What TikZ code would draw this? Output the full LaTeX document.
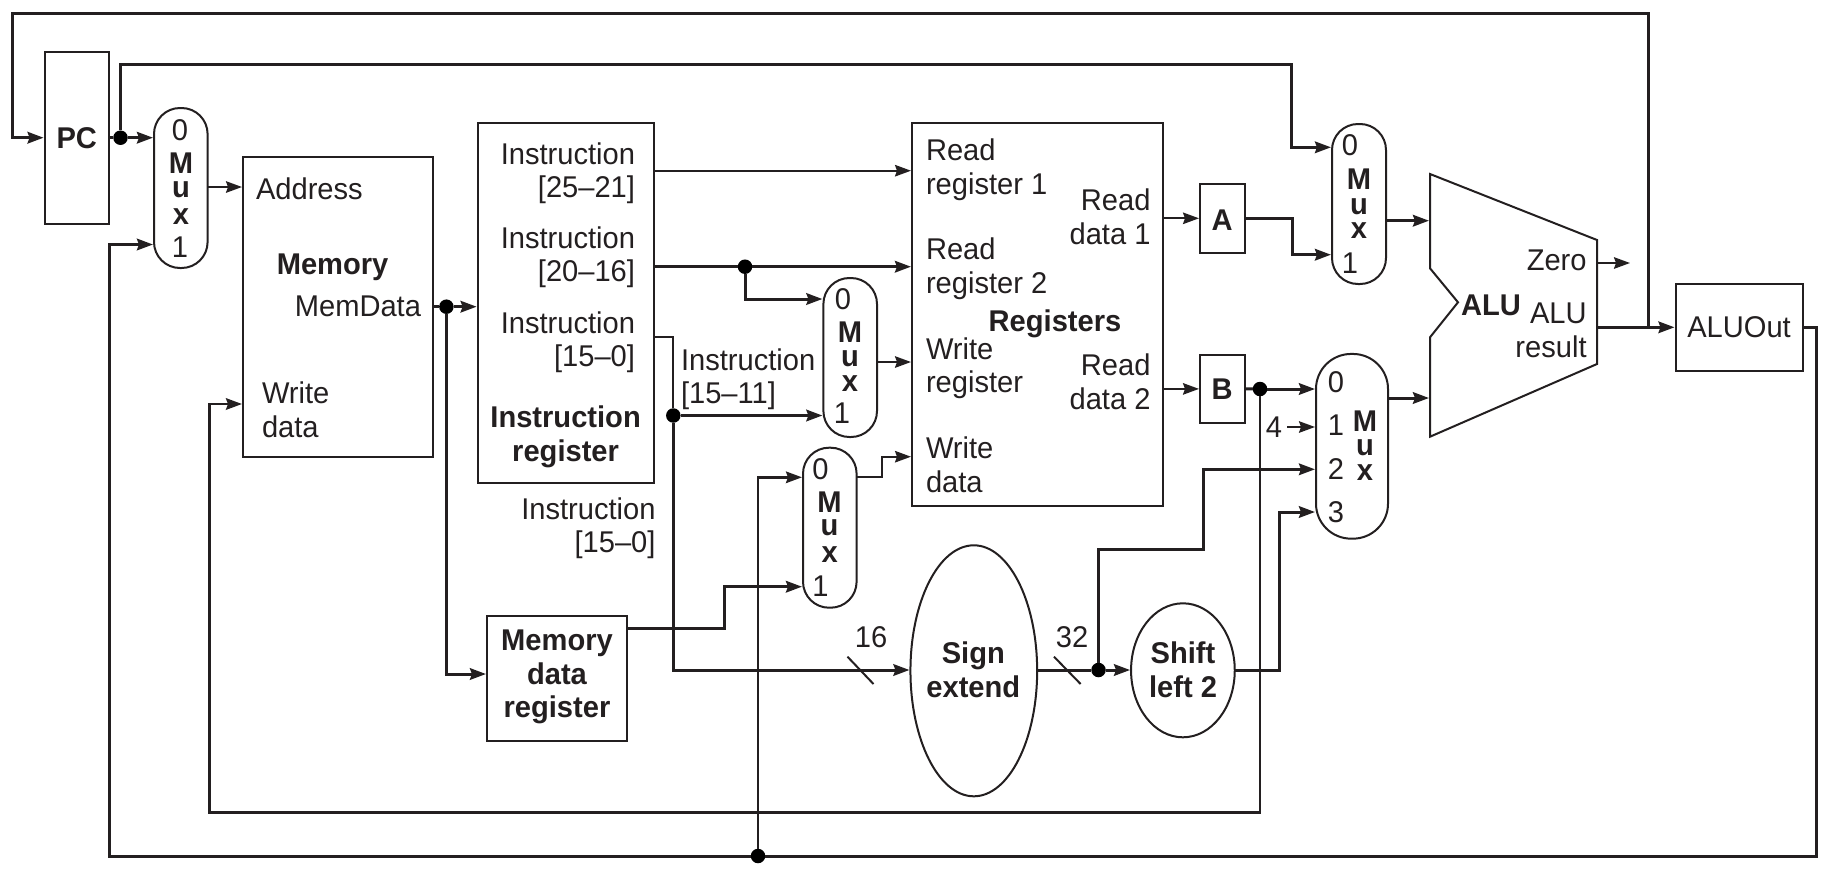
\documentclass[tikz,border=0pt]{standalone}
\usepackage{fontspec}
\setmainfont[FakeStretch=0.97]{Liberation Sans}
\usetikzlibrary{arrows.meta,shapes.geometric}
\definecolor{ink}{HTML}{231F20}
\tikzset{
  txt/.style={inner sep=0pt,outer sep=0pt,text=ink,font=\fontsize{30}{33.5}\selectfont},
  btxt/.style={inner sep=0pt,outer sep=0pt,text=ink,font=\fontsize{30}{33.5}\selectfont\bfseries},
  boxn/.style={draw=ink,line width=2pt,inner sep=0pt,outer sep=0pt,rectangle},
  muxn/.style={boxn,rounded corners=26pt},
  ell/.style={draw=ink,line width=2pt,inner sep=0pt,outer sep=0pt,ellipse},
  dotn/.style={circle,fill=black,draw=none,inner sep=0pt,outer sep=0pt,minimum size=14.5pt},
  wire/.style={draw=ink,line width=2pt},
  midw/.style={draw=ink,line width=2.5pt},
  bus/.style={draw=ink,line width=3pt},
  arr/.style={-{Stealth[length=16pt,width=11.5pt,inset=2pt]},shorten >=1pt},
}
\begin{document}
\begin{tikzpicture}[x=1pt,y=-1pt]
\useasboundingbox (0,0) rectangle (1831,876);
% boxes
\node[boxn,minimum width=64.4pt,minimum height=172pt] (pc) at (76.8,138) {};
\node[boxn,minimum width=190pt,minimum height=300pt] (mem) at (338,307) {};
\node[boxn,minimum width=176.3pt,minimum height=360.3pt] (ir) at (565.8,302.9) {};
\node[boxn,minimum width=140pt,minimum height=125pt] (mdr) at (557,678) {};
\node[boxn,minimum width=251pt,minimum height=383.4pt] (regs) at (1037.5,314.3) {};
\node[boxn,minimum width=45pt,minimum height=68.7pt] (rA) at (1222.5,218.3) {};
\node[boxn,minimum width=45pt,minimum height=68.3pt] (rB) at (1222.5,388.9) {};
\node[boxn,minimum width=127pt,minimum height=87.3pt] (aluout) at (1739,327.3) {};
\node[muxn,minimum width=53.6pt,minimum height=160pt] (mux1) at (180.8,188) {};
\node[muxn,minimum width=53.6pt,minimum height=159pt] (mux2) at (850.2,357.5) {};
\node[muxn,minimum width=53.6pt,minimum height=160pt] (mux3) at (829.8,527.7) {};
\node[muxn,minimum width=54pt,minimum height=160pt] (mux5) at (1359,204) {};
\node[boxn,rounded corners=35pt,minimum width=72pt,minimum height=184.7pt] (mux4) at (1352,446.3) {};
\node[ell,minimum width=126.7pt,minimum height=251pt] (sext) at (973.8,670.8) {};
\node[ell,minimum width=103.7pt,minimum height=134pt] (shl) at (1182.9,670.3) {};
% ALU
\coordinate (aluA) at (1430,174);
\coordinate (aluB) at (1597,240);
\coordinate (aluC) at (1597,364);
\coordinate (aluD) at (1430,436.7);
\coordinate (aluE) at (1430,337.3);
\coordinate (aluF) at (1458,302.3);
\coordinate (aluG) at (1430,268.3);
\draw[wire,line join=miter] (aluA)--(aluB)--(aluC)--(aluD)--(aluE)--(aluF)--(aluG)--cycle;
% junction dots
\node[dotn] (dPC) at (120.5,137.7) {};
\node[dotn] (dMem) at (446.4,306.7) {};
\node[dotn] (dI2) at (745,266.7) {};
\node[dotn] (dI3) at (673.3,415.5) {};
\node[dotn] (dB) at (1260,389) {};
\node[dotn] (dSE) at (1098.5,670) {};
\node[dotn] (dBot) at (758,856) {};
\coordinate (jR) at (1648.7,327.3);
\coordinate (zEnd) at (1631,263);
\coordinate (slA) at (847.5,656.7);
\coordinate (slB) at (873.5,684);
\coordinate (slC) at (1054,656.7);
\coordinate (slD) at (1080.6,684);
% connectors
\draw[bus,arr] (jR) -- (1648.7,13.5) -- (12,13.5) -- (12,137.7) -- (pc.west |- dPC);
\draw[bus] (pc.east |- dPC) -- (dPC);
\draw[bus,arr] (dPC) -- (mux1.west |- dPC);
\draw[bus,arr] (dPC) -- (120.5,64.5) -- (1291,64.5) -- (1291,147.3) -- (mux5.west |- 0,147.3);
\draw[wire,arr] (mux1.east |- 0,187) -- (mem.west |- 0,187);
\draw[bus] (mem.east |- dMem) -- (dMem);
\draw[bus,arr] (dMem) -- (ir.west |- dMem);
\draw[bus,arr] (dMem) -- (446.4,674) -- (mdr.west |- 0,674);
\draw[wire,arr] (ir.east |- 0,170.7) -- (regs.west |- 0,170.7);
\draw[bus] (ir.east |- dI2) -- (dI2);
\draw[bus,arr] (dI2) -- (regs.west |- dI2);
\draw[bus,arr] (dI2) -- (745,299) -- (mux2.west |- 0,299);
\draw[wire] (ir.east |- 0,337) -- (673.3,337) -- (dI3);
\draw[bus,arr] (dI3) -- (mux2.west |- dI3);
\draw[bus,arr] (dI3) -- (673.3,670) -- (sext.west |- 0,670);
\draw[wire,arr] (mux2.east |- 0,362) -- (regs.west |- 0,362);
\draw[wire,arr] (mux3.east |- 0,477.3) -- (881.6,477.3) -- (881.6,456.7) -- (regs.west |- 0,456.7);
\draw[bus,arr] (mdr.east |- 0,628.3) -- (724.5,628.3) -- (724.5,586.7) -- (mux3.west |- 0,586.7);
\draw[midw,arr] (dBot) -- (758,477.3) -- (mux3.west |- 0,477.3);
\draw[bus] (sext.east |- 0,670) -- (dSE);
\draw[bus,arr] (dSE) -- (shl.west |- dSE);
\draw[bus,arr] (dSE) -- (1098.5,549) -- (1203.6,549) -- (1203.6,469.3) -- (mux4.west |- 0,469.3);
\draw[bus,arr] (shl.east |- dSE) -- (1279,670) -- (1279,512) -- (mux4.west |- 0,512);
\draw[wire,arr] (regs.east |- rA) -- (rA.west);
\draw[wire,arr] (regs.east |- rB) -- (rB.west);
\draw[bus,arr] (rA.east) -- (1292,218.3) -- (1292,254.7) -- (mux5.west |- 0,254.7);
\draw[bus] (rB.east) -- (dB);
\draw[bus,arr] (dB) -- (mux4.west |- dB);
\draw[midw,arr] (dB) -- (1260,812.7) -- (209.4,812.7) -- (209.4,404) -- (mem.west |- 0,404);
\draw[bus,arr] (mux5.east |- 0,220.7) -- (aluA |- 0,220.7);
\draw[bus,arr] (mux4.east |- 0,398) -- (aluA |- 0,398);
\draw[wire,arr] (aluB |- zEnd) -- (zEnd);
\draw[bus,arr] (aluB |- jR) -- (aluout.west |- jR);
\draw[bus] (aluout.east |- jR) -- (1816.8,327.3) -- (1816.8,856) -- (dBot);
\draw[bus,arr] (dBot) -- (109.5,856) -- (109.5,244.5) -- (mux1.west |- 0,244.5);
\draw[wire] (slA) -- (slB);
\draw[wire] (slC) -- (slD);
% texts
\node[btxt] (tPC) at (76.8,137.7) {PC};
\node[txt,anchor=west] (tAddr) at (256,188.5) {Address};
\node[btxt] (tMem) at (332.6,267) {Memory};
\node[txt,anchor=east] (tMD) at (421,306) {MemData};
\node[txt,anchor=west,align=left] (tWD) at (262,410) {Write\\data};
\node[txt,anchor=east,align=right] (tI1) at (635,173) {Instruction\\{[25–21]}};
\node[txt,anchor=east,align=right] (tI2) at (635,257) {Instruction\\{[20–16]}};
\node[txt,anchor=east,align=right] (tI3) at (635,342) {Instruction\\{[15–0]}};
\node[btxt,align=center] (tIR) at (565.6,437) {Instruction\\register};
\node[txt,anchor=east,align=right] (tI4) at (655.5,528) {Instruction\\{[15–0]}};
\node[txt,anchor=west,align=left] (tI5) at (681,379) {Instruction\\{[15–11]}};
\node[btxt,align=center] (tMDR) at (557,677) {Memory\\data\\register};
\node[txt,anchor=west,align=left] (tR1) at (926,169.5) {Read\\register 1};
\node[txt,anchor=west,align=left] (tR2) at (926,268.5) {Read\\register 2};
\node[txt,anchor=west,align=left] (tWR) at (926,368) {Write\\register};
\node[txt,anchor=west,align=left] (tWD2) at (926,465) {Write\\data};
\node[btxt] (tRegs) at (1055,324) {Registers};
\node[txt,anchor=east,align=right] (tRD1) at (1150.5,217) {Read\\data 1};
\node[txt,anchor=east,align=right] (tRD2) at (1150.5,382) {Read\\data 2};
\node[btxt] (tA) at (1222,220) {A};
\node[btxt] (tB) at (1222,389) {B};
\node[btxt,align=center] (tSE) at (973.3,670) {Sign\\extend};
\node[btxt,align=center] (tSL) at (1183,670) {Shift\\left 2};
\node[txt] (t16) at (871,637) {16};
\node[txt] (t32) at (1072,637) {32};
\node[txt] (t4) at (1274,427) {4};
\draw[wire,arr] (1287,427) -- (mux4.west |- 0,427);
\node[txt,anchor=east] (tZero) at (1586.6,260) {Zero};
\node[btxt] (tALU) at (1491,305) {ALU};
\node[txt,anchor=east,align=right] (tRes) at (1586.6,330.5) {ALU\\result};
\node[txt] (tOut) at (1739,326.7) {ALUOut};
% mux letters
\node[txt] (m1a) at (180,130) {0};
\node[btxt] (m1b) at (181,163) {M};
\node[btxt] (m1c) at (181,190) {u};
\node[btxt] (m1d) at (181,216.5) {x};
\node[txt] (m1e) at (180,247) {1};
\node[txt] (m2a) at (843,299) {0};
\node[btxt] (m2b) at (850,332) {M};
\node[btxt] (m2c) at (850,358.6) {u};
\node[btxt] (m2d) at (850,384) {x};
\node[txt] (m2e) at (842,413.5) {1};
\node[txt] (m3a) at (820.4,469) {0};
\node[btxt] (m3b) at (829.6,501.7) {M};
\node[btxt] (m3c) at (829.6,528) {u};
\node[btxt] (m3d) at (829.6,555) {x};
\node[txt] (m3e) at (820.4,585.7) {1};
\node[txt] (m5a) at (1350,145) {0};
\node[btxt] (m5b) at (1359,179) {M};
\node[btxt] (m5c) at (1359,207) {u};
\node[btxt] (m5d) at (1359,231) {x};
\node[txt] (m5e) at (1350,263) {1};
\node[txt] (m4a) at (1336,381.7) {0};
\node[txt] (m4b) at (1336,425.5) {1};
\node[txt] (m4c) at (1336,469) {2};
\node[txt] (m4d) at (1336,512.5) {3};
\node[btxt] (m4e) at (1365,421) {M};
\node[btxt] (m4f) at (1365,448) {u};
\node[btxt] (m4g) at (1365,473) {x};
\end{tikzpicture}
\end{document}
